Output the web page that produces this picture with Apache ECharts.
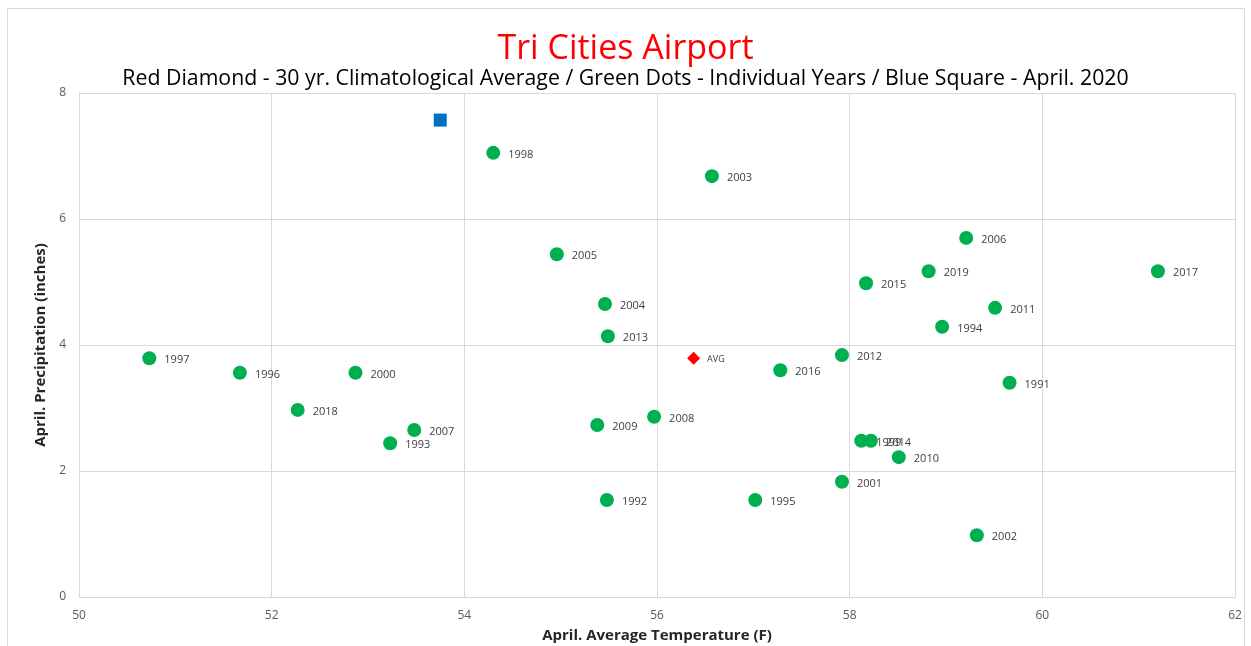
<!DOCTYPE html>
<html><head><meta charset="utf-8">
<script src="https://cdn.jsdelivr.net/npm/echarts@6/dist/echarts.min.js"></script>
<style>html,body{margin:0;padding:0;background:#fff}#c{width:1251px;height:646px}</style>
</head><body><div id="c"></div>
<script>
const years = ['1991','1992','1993','1994','1995','1996','1997','1998','1999','2000','2001','2002','2003','2004','2005','2006','2007','2008','2009','2010','2011','2012','2013','2014','2015','2016','2017','2018','2019'];
const temps = [59.66,55.48,53.23,58.96,57.02,51.67,50.73,54.30,58.12,52.87,57.92,59.32,56.57,55.46,54.96,59.21,53.48,55.97,55.38,58.51,59.51,57.92,55.49,58.22,58.17,57.28,61.20,52.27,58.82];
const precips = [3.40,1.54,2.44,4.29,1.54,3.56,3.79,7.05,2.48,3.56,1.83,0.98,6.68,4.65,5.44,5.70,2.65,2.86,2.73,2.22,4.59,3.84,4.14,2.48,4.98,3.60,5.17,2.97,5.17];
const avgPoint = [56.38, 3.79];
const year2020 = [53.75, 7.57];
const xTicks = [50,52,54,56,58,60,62];
const yTicks = [0,2,4,6,8];

const chart = echarts.init(document.getElementById('c'));
const font = "'Open Sans', 'Noto Sans', sans-serif";
chart.setOption({
  animation: false,
  textStyle: {fontFamily: font},
  title: [
    {text: 'Tri Cities Airport', left: 'center', top: 27, textStyle: {color: '#FF0000', fontSize: 34, fontWeight: 'normal', fontFamily: font}},
    {text: 'Red Diamond - 30 yr. Climatological Average / Green Dots - Individual Years / Blue Square - April. 2020', left: 'center', top: 63, textStyle: {color: '#000', fontSize: 21.3, fontWeight: 'normal', fontFamily: font}}
  ],
  graphic: [{type: 'rect', shape: {x: 7.5, y: 8.5, width: 1237, height: 660}, style: {fill: 'none', stroke: '#d9d9d9', lineWidth: 1}, silent: true}],
  grid: {left: 79, right: 16, top: 93, bottom: 49, containLabel: false, outerBoundsMode: 'none'},
  xAxis: {
    type: 'value', min: xTicks[0], max: xTicks[xTicks.length-1], interval: 2,
    name: 'April. Average Temperature (F)', nameLocation: 'middle', nameGap: 31,
    nameTextStyle: {fontSize: 15, fontWeight: 'bold', color: '#262626', fontFamily: font},
    axisLine: {lineStyle: {color: '#d9d9d9'}}, axisTick: {show: false},
    axisLabel: {color: '#595959', fontSize: 12, margin: 13},
    splitLine: {lineStyle: {color: '#d9d9d9'}}
  },
  yAxis: {
    type: 'value', min: yTicks[0], max: yTicks[yTicks.length-1], interval: 2,
    name: 'April. Precipitation (inches)', nameLocation: 'middle', nameGap: 27,
    nameTextStyle: {fontSize: 15, fontWeight: 'bold', color: '#262626', fontFamily: font},
    axisLine: {show: true, lineStyle: {color: '#d9d9d9'}}, axisTick: {show: false},
    axisLabel: {color: '#595959', fontSize: 12, margin: 13},
    splitLine: {lineStyle: {color: '#d9d9d9'}}
  },
  series: [
    {
      type: 'scatter', symbol: 'circle', symbolSize: 14,
      itemStyle: {color: '#00B050', opacity: 1},
      data: years.map((y, i) => ({value: [temps[i], precips[i]], name: y})),
      label: {show: true, position: 'right', distance: 8, offset: [0, 2], formatter: p => p.name, color: '#404040', fontSize: 11}
    },
    {
      type: 'scatter', symbol: 'diamond', symbolSize: 13,
      itemStyle: {color: '#FF0000', opacity: 1},
      data: [{value: avgPoint, name: 'AVG'}],
      label: {show: true, position: 'right', distance: 7, offset: [0, 1], formatter: 'AVG', color: '#404040', fontSize: 9}
    },
    {
      type: 'scatter', symbol: 'rect', symbolSize: 13,
      itemStyle: {color: '#0070C0', opacity: 1},
      data: [{value: year2020, name: '2020'}]
    }
  ]
});
</script></body></html>
